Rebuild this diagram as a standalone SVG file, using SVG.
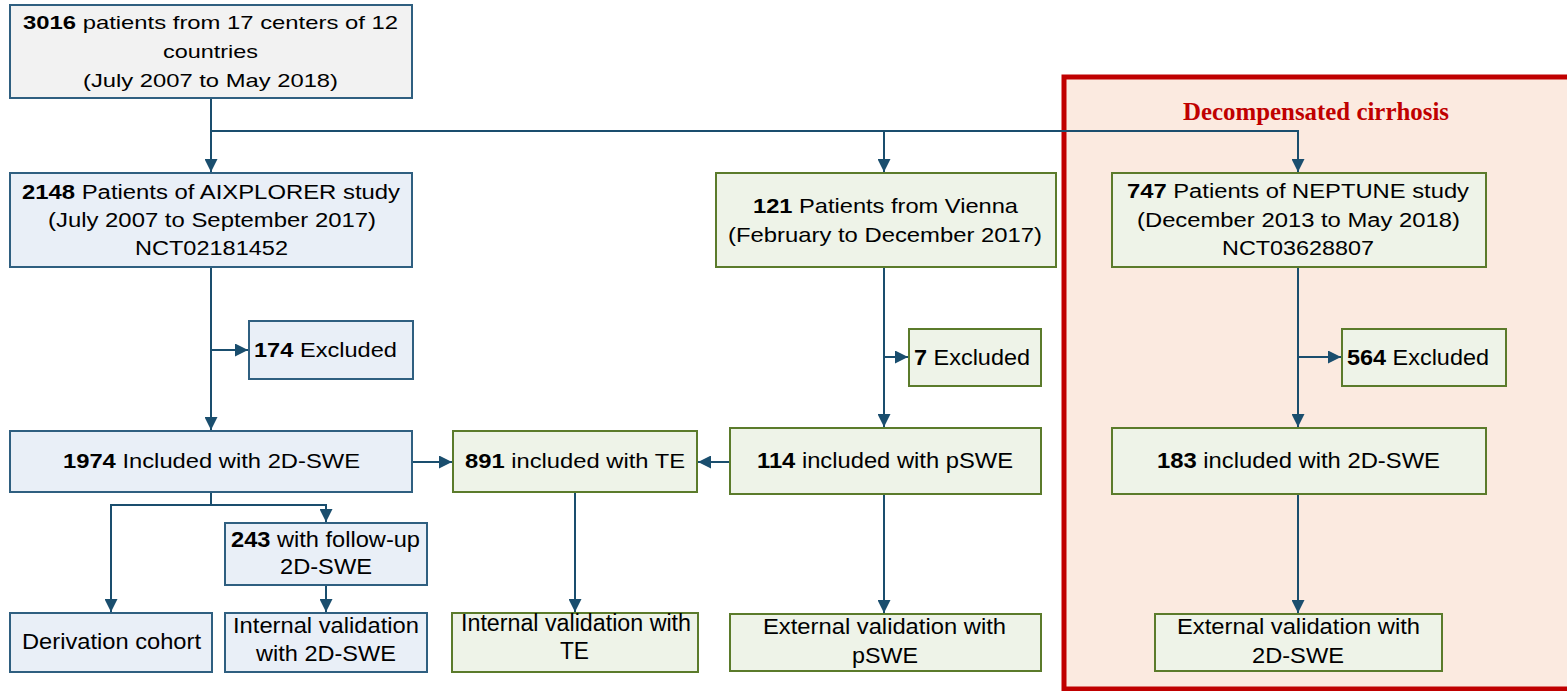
<svg xmlns="http://www.w3.org/2000/svg" width="1567" height="691" viewBox="0 0 1567 691">
<defs>
<marker id="ah" markerUnits="userSpaceOnUse" markerWidth="13" markerHeight="13" refX="13" refY="6.5" orient="auto">
<path d="M0,0 L13,6.5 L0,13 z" fill="#1a4e6e"/>
</marker>
<style>
.t{font-family:"Liberation Sans",Arial,sans-serif;fill:#000}
.b{font-weight:bold}
.gray{fill:#f2f2f2;stroke:#2f5f80;stroke-width:2}
.blue{fill:#e9eff7;stroke:#2f5f80;stroke-width:2}
.green{fill:#eef3e8;stroke:#5b7b2b;stroke-width:2}
.con{fill:none;stroke:#1a4e6e;stroke-width:2}
.arr{marker-end:url(#ah)}
</style>
</defs>
<rect id="decomp-region" x="1064" y="77" width="520" height="612" fill="#fbeae0" stroke="#c00000" stroke-width="5"/>
<text x="1183" y="120" textLength="266" lengthAdjust="spacingAndGlyphs" style="font-family:'Liberation Serif','Times New Roman',serif;font-weight:bold;font-size:25px;fill:#c00000">Decompensated cirrhosis</text>

<g id="connectors">
<path class="con arr" d="M211,98 V172"/>
<path class="con arr" d="M211,131 H1298 V172"/>
<path class="con arr" d="M884,131 V172"/>
<path class="con arr" d="M211,267 V430"/>
<path class="con arr" d="M211,350 H248"/>
<path class="con arr" d="M211,492 V505 H111 V612"/>
<path class="con arr" d="M211,505 H326 V522"/>
<path class="con arr" d="M326,585 V612"/>
<path class="con arr" d="M412,462 H452"/>
<path class="con arr" d="M730,462 H698"/>
<path class="con arr" d="M575,492 V612"/>
<path class="con arr" d="M884,267 V427"/>
<path class="con arr" d="M884,357 H908"/>
<path class="con arr" d="M884,494 V613"/>
<path class="con arr" d="M1298,267 V427"/>
<path class="con arr" d="M1298,357 H1341"/>
<path class="con arr" d="M1298,494 V613"/>
</g>

<g id="n3016">
<rect class="gray" x="10" y="5" width="402" height="93"/>
<text class="t" x="23" y="29" font-size="19" textLength="375" lengthAdjust="spacingAndGlyphs"><tspan class="b">3016</tspan> patients from 17 centers of 12</text>
<text class="t" x="163" y="58" font-size="19" textLength="95" lengthAdjust="spacingAndGlyphs">countries</text>
<text class="t" x="83" y="87" font-size="19" textLength="255" lengthAdjust="spacingAndGlyphs">(July 2007 to May 2018)</text>
</g>

<g id="n2148">
<rect class="blue" x="10" y="173" width="402" height="94"/>
<text class="t" x="22" y="199" font-size="19.5" textLength="378" lengthAdjust="spacingAndGlyphs"><tspan class="b">2148</tspan> Patients of AIXPLORER study</text>
<text class="t" x="48" y="227" font-size="19.5" textLength="328" lengthAdjust="spacingAndGlyphs">(July 2007 to September 2017)</text>
<text class="t" x="135" y="255" font-size="19.5" textLength="153" lengthAdjust="spacingAndGlyphs">NCT02181452</text>
</g>

<g id="n174">
<rect class="blue" x="249" y="321" width="164" height="58"/>
<text class="t" x="254" y="357" font-size="21" textLength="143" lengthAdjust="spacingAndGlyphs"><tspan class="b">174</tspan> Excluded</text>
</g>

<g id="n1974">
<rect class="blue" x="10" y="431" width="402" height="61"/>
<text class="t" x="63" y="468" font-size="21" textLength="297" lengthAdjust="spacingAndGlyphs"><tspan class="b">1974</tspan> Included with 2D-SWE</text>
</g>

<g id="n243">
<rect class="blue" x="225" y="523" width="202" height="62"/>
<text class="t" x="231" y="547" font-size="22" textLength="189" lengthAdjust="spacingAndGlyphs"><tspan class="b">243</tspan> with follow-up</text>
<text class="t" x="280" y="574" font-size="22" textLength="92" lengthAdjust="spacingAndGlyphs">2D-SWE</text>
</g>

<g id="nderivation">
<rect class="blue" x="10" y="613" width="202" height="59"/>
<text class="t" x="22" y="649" font-size="22" textLength="179" lengthAdjust="spacingAndGlyphs">Derivation cohort</text>
</g>

<g id="nintval2d">
<rect class="blue" x="225" y="613" width="202" height="59"/>
<text class="t" x="233" y="633" font-size="22" textLength="186" lengthAdjust="spacingAndGlyphs">Internal validation</text>
<text class="t" x="256" y="661" font-size="22" textLength="140" lengthAdjust="spacingAndGlyphs">with 2D-SWE</text>
</g>

<g id="n891">
<rect class="green" x="453" y="431" width="244" height="61"/>
<text class="t" x="465" y="468" font-size="21" textLength="220" lengthAdjust="spacingAndGlyphs"><tspan class="b">891</tspan> included with TE</text>
</g>

<g id="nintvalte">
<rect class="green" x="452" y="613" width="246" height="59"/>
<text class="t" x="461" y="631" font-size="23" textLength="230" lengthAdjust="spacingAndGlyphs">Internal validation with</text>
<text class="t" x="560" y="659" font-size="23" textLength="29" lengthAdjust="spacingAndGlyphs">TE</text>
</g>

<g id="nvienna">
<rect class="green" x="716" y="173" width="340" height="94"/>
<text class="t" x="753" y="213" font-size="21" textLength="265" lengthAdjust="spacingAndGlyphs"><tspan class="b">121</tspan> Patients from Vienna</text>
<text class="t" x="728" y="242" font-size="21" textLength="314" lengthAdjust="spacingAndGlyphs">(February to December 2017)</text>
</g>

<g id="n7">
<rect class="green" x="909" y="329" width="132" height="57"/>
<text class="t" x="914" y="365" font-size="22" textLength="116" lengthAdjust="spacingAndGlyphs"><tspan class="b">7</tspan> Excluded</text>
</g>

<g id="n114">
<rect class="green" x="730" y="428" width="311" height="66"/>
<text class="t" x="757" y="468" font-size="22" textLength="256" lengthAdjust="spacingAndGlyphs"><tspan class="b">114</tspan> included with pSWE</text>
</g>

<g id="nextp">
<rect class="green" x="730" y="614" width="311" height="57"/>
<text class="t" x="763" y="634" font-size="22.3" textLength="243" lengthAdjust="spacingAndGlyphs">External validation with</text>
<text class="t" x="852" y="663" font-size="22.3" textLength="66" lengthAdjust="spacingAndGlyphs">pSWE</text>
</g>

<g id="nneptune">
<rect class="green" x="1112" y="173" width="374" height="94"/>
<text class="t" x="1127" y="198" font-size="20" textLength="342" lengthAdjust="spacingAndGlyphs"><tspan class="b">747</tspan> Patients of NEPTUNE study</text>
<text class="t" x="1137" y="227" font-size="20" textLength="323" lengthAdjust="spacingAndGlyphs">(December 2013 to May 2018)</text>
<text class="t" x="1222" y="255" font-size="20" textLength="152" lengthAdjust="spacingAndGlyphs">NCT03628807</text>
</g>

<g id="n564">
<rect class="green" x="1342" y="329" width="164" height="57"/>
<text class="t" x="1347" y="365" font-size="22" textLength="142" lengthAdjust="spacingAndGlyphs"><tspan class="b">564</tspan> Excluded</text>
</g>

<g id="n183">
<rect class="green" x="1112" y="428" width="374" height="66"/>
<text class="t" x="1157" y="468" font-size="22.5" textLength="283" lengthAdjust="spacingAndGlyphs"><tspan class="b">183</tspan> included with 2D-SWE</text>
</g>

<g id="next2d">
<rect class="green" x="1155" y="614" width="287" height="57"/>
<text class="t" x="1177" y="634" font-size="22.3" textLength="243" lengthAdjust="spacingAndGlyphs">External validation with</text>
<text class="t" x="1252" y="663" font-size="22.3" textLength="92" lengthAdjust="spacingAndGlyphs">2D-SWE</text>
</g>
</svg>
